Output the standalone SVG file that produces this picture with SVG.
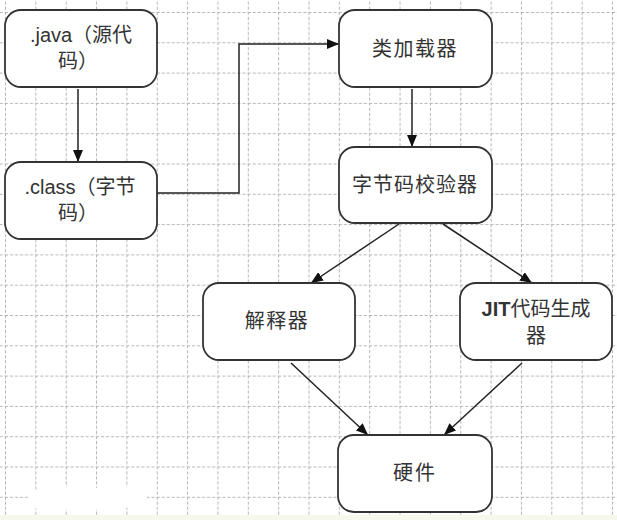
<svg xmlns="http://www.w3.org/2000/svg" width="617" height="520" viewBox="0 0 617 520">
<defs>
<pattern id="grid" x="5" y="12" width="30.35" height="30.3" patternUnits="userSpaceOnUse">
<path d="M0.5 0V30.3M0 0.5H30.35" fill="none" stroke="#b4b4b4" stroke-width="1" stroke-dasharray="3 2"/>
</pattern>
<marker id="arr" viewBox="0 0 12 10" refX="12" refY="5" markerWidth="12" markerHeight="10" markerUnits="userSpaceOnUse" orient="auto">
<path d="M0 0L12 5L0 10Z" fill="#111"/>
</marker>
<style>
.box{fill:#fff;stroke:#333;stroke-width:1.8}
.t{font-family:"Liberation Sans","Noto Sans CJK SC",sans-serif;font-size:20px;fill:#333;text-anchor:middle}
.c{stroke:#222;stroke-width:1.5;fill:none;marker-end:url(#arr)}
</style>
</defs>
<rect width="617" height="520" fill="#fff"/>
<rect width="617" height="520" fill="url(#grid)"/>
<rect x="0" y="515" width="617" height="5" fill="#f6f8ee"/>
<path d="M28 492 Q60 484 100 488 L145 486 L148 506 Q90 512 30 508 Z" fill="#fff"/>
<g id="connectors">
<line class="c" x1="78" y1="89" x2="78" y2="162"/>
<polyline class="c" points="157,193 239,193 239,44 339,44"/>
<line class="c" x1="412" y1="89" x2="412" y2="147"/>
<line class="c" x1="399" y1="224" x2="311" y2="283"/>
<line class="c" x1="443" y1="224" x2="532" y2="283"/>
<line class="c" x1="291" y1="363" x2="368" y2="435"/>
<line class="c" x1="522" y1="363" x2="444" y2="435"/>
</g>
<g id="java">
<rect class="box" x="5" y="10" width="152" height="77" rx="16"/>
<text class="t" x="81" y="42">.java（源代</text>
<text class="t" x="78" y="68">码）</text>
</g>
<g id="class">
<rect class="box" x="5" y="162" width="152" height="77" rx="16"/>
<text class="t" x="80" y="194">.class（字节</text>
<text class="t" x="78" y="220">码）</text>
</g>
<g id="loader">
<rect class="box" x="339" y="10" width="153" height="77" rx="16"/>
<text class="t" x="415" y="56" letter-spacing="1.5">类加载器</text>
</g>
<g id="verifier">
<rect class="box" x="339" y="147" width="153" height="76" rx="16"/>
<text class="t" x="415" y="192" letter-spacing="1">字节码校验器</text>
</g>
<g id="interpreter">
<rect class="box" x="203" y="283" width="152" height="77" rx="16"/>
<text class="t" x="277" y="328" letter-spacing="1.5">解释器</text>
</g>
<g id="jit">
<rect class="box" x="460" y="283" width="152" height="77" rx="16"/>
<text class="t" x="536" y="316"><tspan font-weight="bold">JIT</tspan>代码生成</text>
<text class="t" x="536" y="343">器</text>
</g>
<g id="hardware">
<rect class="box" x="338" y="435" width="154" height="77" rx="16"/>
<text class="t" x="415" y="480" letter-spacing="2">硬件</text>
</g>
</svg>
